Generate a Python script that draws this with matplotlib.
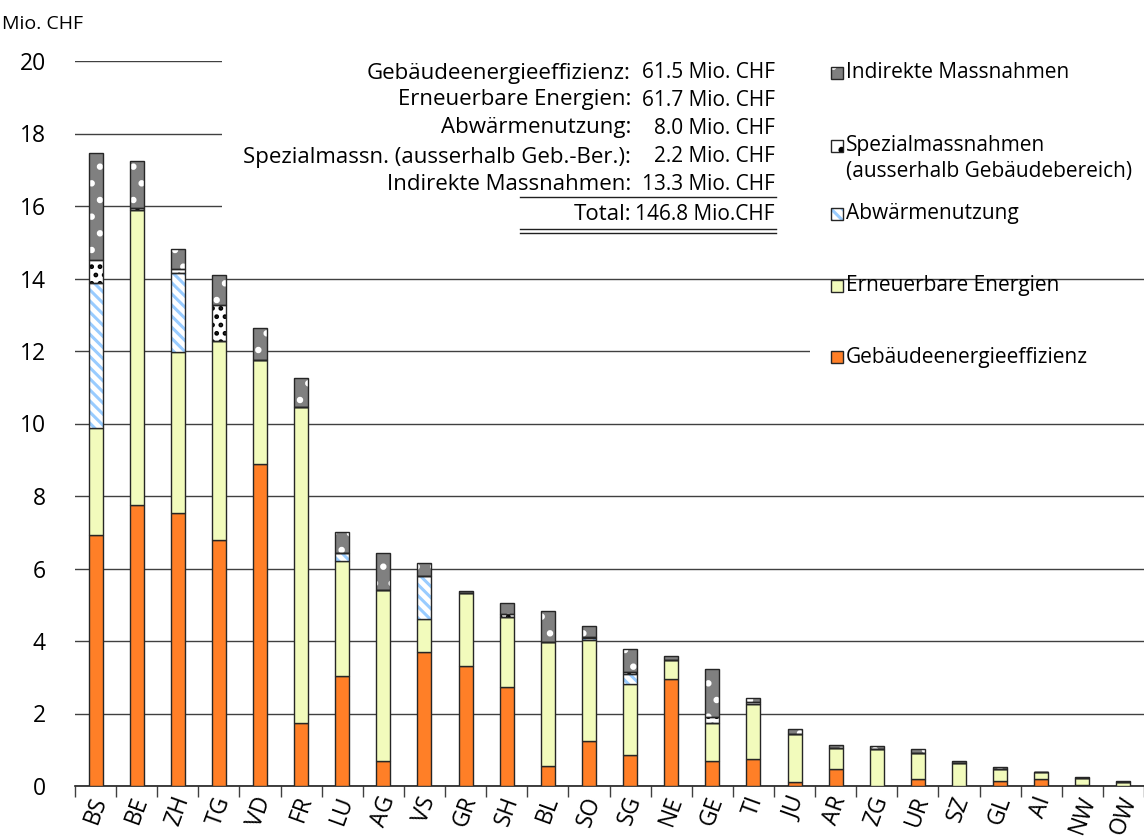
import matplotlib
matplotlib.use('Agg')
import matplotlib.pyplot as plt
from matplotlib.patches import Rectangle
from matplotlib.lines import Line2D
import numpy as np

plt.rcParams['font.family'] = ['Open Sans', 'DejaVu Sans']
plt.rcParams['hatch.linewidth'] = 2.2

# ---------------- data ----------------
cantons = ['BS', 'BE', 'ZH', 'TG', 'VD', 'FR', 'LU', 'AG', 'VS', 'GR', 'SH', 'BL', 'SO',
           'SG', 'NE', 'GE', 'TI', 'JU', 'AR', 'ZG', 'UR', 'SZ', 'GL', 'AI', 'NW', 'OW']
gebaeude = [6.92, 7.75, 7.53, 6.79, 8.88, 1.74, 3.04, 0.70, 3.69, 3.32, 2.72, 0.55, 1.24,
            0.85, 2.95, 0.69, 0.74, 0.10, 0.47, 0.00, 0.20, 0.00, 0.14, 0.19, 0.03, 0.00]
erneuerbare = [2.95, 8.15, 4.43, 5.48, 2.87, 8.72, 3.16, 4.71, 0.91, 2.01, 1.93, 3.41, 2.79,
               1.96, 0.53, 1.04, 1.51, 1.33, 0.57, 1.01, 0.70, 0.64, 0.32, 0.19, 0.19, 0.12]
abwaerme = [4.00, 0.00, 2.18, 0.00, 0.00, 0.00, 0.24, 0.00, 1.20, 0.00, 0.00, 0.00, 0.05,
            0.27, 0.00, 0.00, 0.00, 0.00, 0.00, 0.00, 0.00, 0.00, 0.00, 0.00, 0.00, 0.00]
spezial = [0.64, 0.05, 0.11, 1.00, 0.00, 0.00, 0.00, 0.00, 0.00, 0.00, 0.09, 0.00, 0.03,
           0.06, 0.00, 0.18, 0.06, 0.00, 0.00, 0.00, 0.00, 0.00, 0.00, 0.00, 0.00, 0.00]
indirekt = [2.96, 1.30, 0.55, 0.83, 0.88, 0.79, 0.58, 1.02, 0.36, 0.06, 0.30, 0.86, 0.31,
            0.63, 0.12, 1.31, 0.12, 0.13, 0.09, 0.10, 0.11, 0.04, 0.06, 0.02, 0.03, 0.01]

series_names = ['Gebäudeenergieeffizienz', 'Erneuerbare Energien', 'Abwärmenutzung',
                'Spezialmassnahmen\n(ausserhalb Gebäudebereich)', 'Indirekte Massnahmen']
summary_labels = ['Gebäudeenergieeffizienz:', 'Erneuerbare Energien:', 'Abwärmenutzung:',
                  'Spezialmassn. (ausserhalb Geb.-Ber.):', 'Indirekte Massnahmen:', 'Total:']
summary_values = ['61.5 Mio. CHF', '61.7 Mio. CHF', '8.0 Mio. CHF', '2.2 Mio. CHF',
                  '13.3 Mio. CHF', '146.8 Mio.CHF']
y_ticks = [0, 2, 4, 6, 8, 10, 12, 14, 16, 18, 20]
y_unit = 'Mio. CHF'

# ---------------- styles ----------------
# (face colour, hatch colour, hatch)
styles = [
    ('#FF7F27', None, None),
    ('#F2FBBC', None, None),
    ('#FFFFFF', '#99CCFF', '\\\\\\'),
    ('#FFFFFF', '#000000', '..'),
    ('#808080', '#FFFFFF', '.'),
]
edge = '#262626'

W, H = 1144, 840
fig = plt.figure(figsize=(W / 100, H / 100), dpi=100)
fig.patch.set_facecolor('white')


def fx(x):
    return x / W


def fy(y):
    return 1 - y / H


ax = fig.add_axes([fx(75), fy(786), 1 - fx(75), fy(61) - fy(786)])
ax.set_facecolor('white')

x = np.arange(len(cantons))
bw = 0.34
bottom = np.zeros(len(cantons))
all_series = [gebaeude, erneuerbare, abwaerme, spezial, indirekt]
for vals, (fc, hc, hatch) in zip(all_series, styles):
    vals = np.array(vals)
    if hatch is None:
        ax.bar(x, vals, bw, bottom=bottom, color=fc, edgecolor=edge, linewidth=1.0, zorder=3)
    else:
        ax.bar(x, vals, bw, bottom=bottom, color=fc, edgecolor=hc, hatch=hatch,
               linewidth=0, zorder=3)
        ax.bar(x, vals, bw, bottom=bottom, fill=False, edgecolor=edge, linewidth=1.0, zorder=3.1)
    bottom = bottom + vals

ax.set_xlim(-0.5, len(cantons) - 0.5)
ax.set_ylim(0, 20)
ax.set_yticks(y_ticks)
ax.set_yticklabels([str(v) for v in y_ticks], fontsize=16.5)
ax.set_xticks(x)
ax.set_xticklabels(cantons, rotation=70, fontsize=16.5)
ax.set_xticks(np.arange(-0.5, len(cantons), 1.0), minor=True)
ax.tick_params(axis='x', which='major', length=0, pad=5)
ax.tick_params(axis='x', which='minor', length=8, width=1, color='#404040')
ax.tick_params(axis='y', length=0, pad=21)
for s in ['left', 'right', 'top']:
    ax.spines[s].set_visible(False)
ax.spines['bottom'].set_color('#202020')
ax.spines['bottom'].set_linewidth(1.2)
ax.yaxis.grid(True, color='#404040', linewidth=1.0)
ax.set_axisbelow(True)

# white backgrounds of the text block and legend
ax.add_patch(Rectangle((fx(222), fy(242)), fx(790) - fx(222), fy(40) - fy(242),
                       transform=fig.transFigure, facecolor='white', edgecolor='none',
                       zorder=1.5, clip_on=False))
ax.add_patch(Rectangle((fx(790), fy(262)), fx(1144) - fx(790), fy(40) - fy(262),
                       transform=fig.transFigure, facecolor='white', edgecolor='none',
                       zorder=1.5, clip_on=False))
ax.add_patch(Rectangle((fx(810), fy(376)), fx(1144) - fx(810), fy(336) - fy(376),
                       transform=fig.transFigure, facecolor='white', edgecolor='none',
                       zorder=1.5, clip_on=False))

fig.text(fx(2), fy(24), y_unit, ha='left', va='center', fontsize=14)

# summary block
row_y = [73, 100, 128, 157, 184, 215]
for lab, val, yy in zip(summary_labels, summary_values, row_y):
    fig.text(fx(631), fy(yy), lab, ha='right', va='center', fontsize=16)
    fig.text(fx(775), fy(yy), val, ha='right', va='center', fontsize=15)
fig.add_artist(Line2D([fx(520), fx(776)], [fy(197), fy(197)], color='#202020', lw=1))
fig.add_artist(Line2D([fx(520), fx(776)], [fy(229), fy(229)], color='#202020', lw=1))
fig.add_artist(Line2D([fx(520), fx(776)], [fy(233), fy(233)], color='#202020', lw=1))

# legend (manual, top entry = Indirekte Massnahmen)
leg_y = [357, 286, 214, 146, 73]
for name, (fc, hc, hatch), yy in zip(series_names, styles, leg_y):
    if hatch is None:
        fig.add_artist(Rectangle((fx(831), fy(yy + 6)), fx(12), 12 / H, facecolor=fc,
                                 edgecolor=edge, linewidth=1.0))
    else:
        fig.add_artist(Rectangle((fx(831), fy(yy + 6)), fx(12), 12 / H, facecolor=fc,
                                 edgecolor=hc, hatch=hatch.replace('..', '.'), linewidth=0))
        fig.add_artist(Rectangle((fx(831), fy(yy + 6)), fx(12), 12 / H, fill=False,
                                 edgecolor=edge, linewidth=1.0))
    lines = name.split('\n')
    for k, line in enumerate(lines):
        fig.text(fx(846), fy(yy + 25 * k), line, ha='left', va='center', fontsize=15)

fig.savefig('out.png', dpi=100, facecolor='white')
